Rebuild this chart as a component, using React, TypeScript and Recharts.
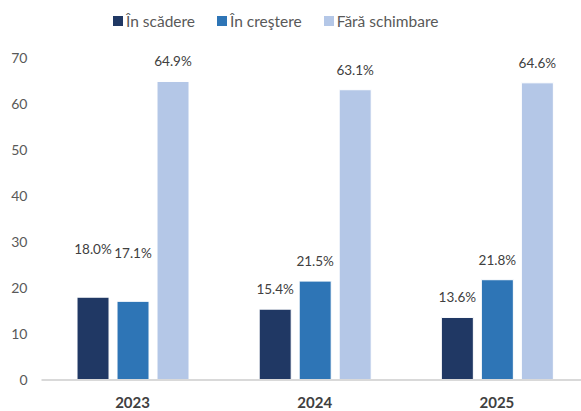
import React from 'react'
import {
  BarChart,
  Bar,
  XAxis,
  YAxis,
  Legend,
  LabelList,
} from 'recharts'

const years = ['2023', '2024', '2025']
const scadere = [18.0, 15.4, 13.6]
const crestere = [17.1, 21.5, 21.8]
const faraSchimbare = [64.9, 63.1, 64.6]
const yTicks = [0, 10, 20, 30, 40, 50, 60, 70]

const data = years.map((y, i) => ({
  year: y,
  scadere: scadere[i],
  crestere: crestere[i],
  fara: faraSchimbare[i],
}))

const series = [
  { key: 'scadere', name: 'În scădere', color: '#203864' },
  { key: 'crestere', name: 'În creştere', color: '#2E75B6' },
  { key: 'fara', name: 'Fără schimbare', color: '#B4C7E7' },
]

const font = 'Lato, "Open Sans", sans-serif'

// Excel pushed the 2023 labels up a bit so they would not crowd each other
const extraLift = (key: string, index: number) =>
  index === 0 && key !== 'fara' ? 28 : 0

function makeLabel(key: string) {
  return (props: any) => {
    const { x, y, width, value, index } = props
    return (
      <text
        x={x + width / 2}
        y={y - 15 - extraLift(key, index)}
        textAnchor="middle"
        fill="#404040"
        fontSize={13.5}
        fontFamily={font}
      >
        {value.toFixed(1)}%
      </text>
    )
  }
}

function LegendBox() {
  return (
    <div
      style={{
        display: 'flex',
        gap: 22,
        fontFamily: font,
        fontSize: 15.5,
        color: '#595959',
        alignItems: 'center',
        height: 18,
      }}
    >
      {series.map((s) => (
        <div key={s.key} style={{ display: 'flex', alignItems: 'center' }}>
          <span
            style={{
              display: 'inline-block',
              width: 10,
              height: 10,
              background: s.color,
              marginRight: 3,
            }}
          />
          {s.name}
        </div>
      ))}
    </div>
  )
}

export default function App() {
  return (
    <div style={{ position: 'absolute', left: 0, top: 0, background: '#fff' }}>
      <BarChart
        width={600}
        height={411}
        data={data}
        margin={{ top: 40, right: 12, left: 0, bottom: 0 }}
        barCategoryGap="19.5%"
        barGap={8}
      >
        <Legend
          verticalAlign="top"
          height={18}
          content={<LegendBox />}
          wrapperStyle={{ top: 12, left: 113, width: 'auto' }}
        />
        <XAxis
          dataKey="year"
          axisLine={{ stroke: '#D9D9D9', strokeWidth: 2 }}
          tickLine={false}
          height={31}
          tickMargin={11}
          tick={{ fill: '#404040', fontSize: 15, fontWeight: 700, fontFamily: font }}
        />
        <YAxis
          width={41.5}
          domain={[0, 70]}
          ticks={yTicks}
          axisLine={false}
          tickLine={false}
          tickSize={0}
          tickMargin={14}
          tick={{ fill: '#595959', fontSize: 14, fontFamily: font }}
        />
        {series.map((s) => (
          <Bar
            key={s.key}
            dataKey={s.key}
            name={s.name}
            fill={s.color}
            stroke="#fff"
            strokeWidth={1}
            isAnimationActive={false}
          >
            <LabelList dataKey={s.key} content={makeLabel(s.key)} />
          </Bar>
        ))}
      </BarChart>
    </div>
  )
}
